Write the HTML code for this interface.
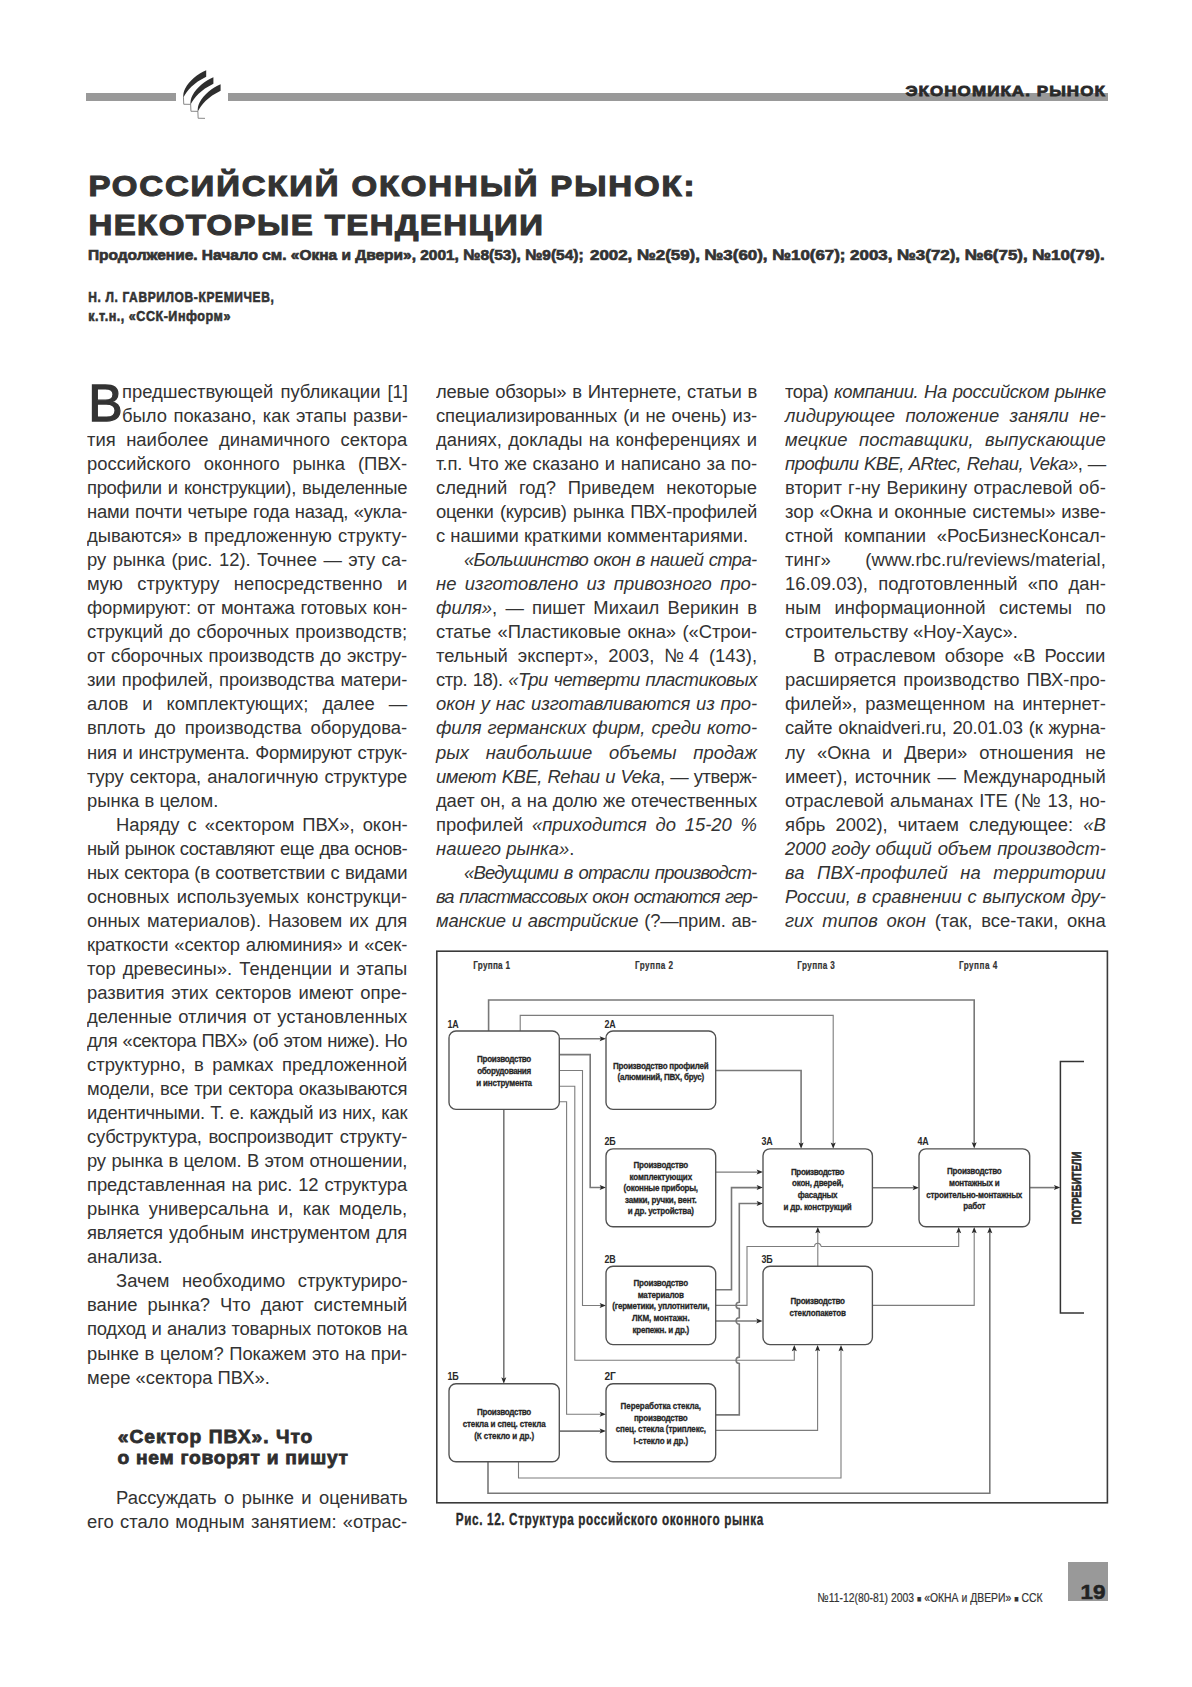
<!DOCTYPE html>
<html><head><meta charset="utf-8"><title>Российский оконный рынок</title><style>
html,body{margin:0;padding:0;background:#fff;}
body{width:1192px;height:1687px;position:relative;overflow:hidden;font-family:"Liberation Sans",sans-serif;color:#333;}
.ln{position:absolute;white-space:nowrap;font-size:19.2px;line-height:24.04px;height:24.04px;letter-spacing:0.0px;word-spacing:0px;transform-origin:0 0;transform:scaleX(0.96);}
.ln.j{text-align:justify;text-align-last:justify;}
.ln.l{text-align:left;}
.ln i{font-style:italic;}
svg{position:absolute;left:0;top:0;}
svg text{font-family:"Liberation Sans",sans-serif;}
</style></head>
<body>
<svg width="1192" height="1687" viewBox="0 0 1192 1687">
<rect x="86" y="93" width="90" height="8" fill="#999"/>
<rect x="228" y="93" width="880" height="8" fill="#999"/>
<g transform="translate(0.0,0.0)"><path d="M206.2,70.2 L206.2,76.8 C193.5,83 187,90.5 183.3,97.8 C183.1,94.5 183.6,91.5 185.2,88.5 C189.5,80.5 197.5,73.8 206.2,70.2 Z" fill="#2e2e2e"/><path d="M183.45,97.2 L183.75,104.25 L190.6,104.35" stroke="#7a7a7a" stroke-width="0.9" fill="none"/></g>
<g transform="translate(7.2,7.0)"><path d="M206.2,70.2 L206.2,76.8 C193.5,83 187,90.5 183.3,97.8 C183.1,94.5 183.6,91.5 185.2,88.5 C189.5,80.5 197.5,73.8 206.2,70.2 Z" fill="#2e2e2e"/><path d="M183.45,97.2 L183.75,104.25 L190.6,104.35" stroke="#7a7a7a" stroke-width="0.9" fill="none"/></g>
<g transform="translate(14.4,14.0)"><path d="M206.2,70.2 L206.2,76.8 C193.5,83 187,90.5 183.3,97.8 C183.1,94.5 183.6,91.5 185.2,88.5 C189.5,80.5 197.5,73.8 206.2,70.2 Z" fill="#2e2e2e"/><path d="M183.45,97.2 L183.75,104.25 L190.6,104.35" stroke="#7a7a7a" stroke-width="0.9" fill="none"/></g>
<text transform="translate(905.40,96.30) scale(1.12,1)" x="0" y="0" font-size="15.2" font-weight="900" fill="#2a2a2a" textLength="178.12" lengthAdjust="spacing" stroke="#2a2a2a" stroke-width="0.8">ЭКОНОМИКА. РЫНОК</text>
<text transform="translate(88.40,196.10) scale(1.13,1)" x="0" y="0" font-size="29.2" font-weight="bold" fill="#333" textLength="536.28" lengthAdjust="spacing" stroke="#333" stroke-width="1.1">РОССИЙСКИЙ ОКОННЫЙ РЫНОК:</text>
<text transform="translate(88.40,235.10) scale(1.13,1)" x="0" y="0" font-size="29.2" font-weight="bold" fill="#333" textLength="402.21" lengthAdjust="spacing" stroke="#333" stroke-width="1.1">НЕКОТОРЫЕ ТЕНДЕНЦИИ</text>
<text x="88.00" y="259.50" font-size="15" font-weight="bold" fill="#333" textLength="495.60" lengthAdjust="spacingAndGlyphs" stroke="#333" stroke-width="0.7">Продолжение. Начало см. «Окна и Двери», 2001, №8(53), №9(54);</text>
<text x="590.00" y="259.50" font-size="15" font-weight="bold" fill="#333" textLength="514.60" lengthAdjust="spacingAndGlyphs" stroke="#333" stroke-width="0.7">2002, №2(59), №3(60), №10(67); 2003, №3(72), №6(75), №10(79).</text>
<text transform="translate(88.30,301.80) scale(0.8,1)" x="0" y="0" font-size="15" font-weight="bold" fill="#333" textLength="231.88" lengthAdjust="spacing" stroke="#333" stroke-width="0.6">Н. Л. ГАВРИЛОВ-КРЕМИЧЕВ,</text>
<text transform="translate(88.30,321.00) scale(0.84,1)" x="0" y="0" font-size="15" font-weight="bold" fill="#333" textLength="169.17" lengthAdjust="spacing" stroke="#333" stroke-width="0.6">к.т.н., «ССК-Информ»</text>
<text x="88.20" y="421.30" font-size="51.6" font-weight="normal" fill="#333" stroke="#333" stroke-width="1.3">В</text>
<text transform="translate(117.80,1442.50) scale(1.08,1)" x="0" y="0" font-size="17.8" font-weight="900" fill="#2e2e2e" textLength="180.09" lengthAdjust="spacing" stroke="#2e2e2e" stroke-width="0.75">«Сектор ПВХ». Что</text>
<text transform="translate(117.50,1463.50) scale(1.08,1)" x="0" y="0" font-size="17.8" font-weight="900" fill="#2e2e2e" textLength="213.43" lengthAdjust="spacing" stroke="#2e2e2e" stroke-width="0.75">о нем говорят и пишут</text>
<text transform="translate(455.80,1524.60) scale(0.72,1)" x="0" y="0" font-size="16.3" font-weight="bold" fill="#2a2a2a" textLength="427.08" lengthAdjust="spacing" stroke="#2a2a2a" stroke-width="0.35">Рис. 12. Структура российского оконного рынка</text>
<text transform="translate(817.5,1601.8) scale(0.8,1)" x="0" y="0" font-size="13" fill="#333" stroke="#333" stroke-width="0.2" textLength="281.25" lengthAdjust="spacing">№11-12(80-81) 2003 <tspan font-size="9">■</tspan> «ОКНА и ДВЕРИ» <tspan font-size="9">■</tspan> ССК</text>
<rect x="1068" y="1562" width="40" height="39" fill="#999"/>
<text x="1080.50" y="1599.30" font-size="19.5" font-weight="900" fill="#222" textLength="25.00" lengthAdjust="spacingAndGlyphs" stroke="#222" stroke-width="0.5">19</text>
<rect x="436.8" y="951.2" width="670.6" height="551.6" fill="none" stroke="#3a3a3a" stroke-width="1.6"/>
<text transform="translate(473.20,968.60) scale(0.8,1)" x="0" y="0" font-size="10.2" font-weight="bold" fill="#333" textLength="46.00" lengthAdjust="spacing" stroke="#333" stroke-width="0.2">Группа 1</text>
<text transform="translate(634.90,968.60) scale(0.8,1)" x="0" y="0" font-size="10.2" font-weight="bold" fill="#333" textLength="47.75" lengthAdjust="spacing" stroke="#333" stroke-width="0.2">Группа 2</text>
<text transform="translate(797.30,968.60) scale(0.8,1)" x="0" y="0" font-size="10.2" font-weight="bold" fill="#333" textLength="47.00" lengthAdjust="spacing" stroke="#333" stroke-width="0.2">Группа 3</text>
<text transform="translate(959.00,968.60) scale(0.8,1)" x="0" y="0" font-size="10.2" font-weight="bold" fill="#333" textLength="47.75" lengthAdjust="spacing" stroke="#333" stroke-width="0.2">Группа 4</text>
<path d="M488.60,1031.00 L488.60,1000.00 L974.20,1000.00 L974.20,1146.00" fill="none" stroke="#787878" stroke-width="1.6" stroke-linejoin="miter"/>
<path d="M974.2,1148.6 L971.7,1142.1999999999998 L974.2,1143.6 L976.7,1142.1999999999998 Z" fill="#2a2a2a"/>
<path d="M520.20,1031.00 L520.20,1015.40 L833.20,1015.40 L833.20,1146.00" fill="none" stroke="#7c7c7c" stroke-width="1.1" stroke-linejoin="miter"/>
<path d="M833.2,1148.8 L830.7,1142.3999999999999 L833.2,1143.8 L835.7,1142.3999999999999 Z" fill="#2a2a2a"/>
<path d="M559.30,1038.80 L603.00,1038.80" fill="none" stroke="#787878" stroke-width="1.6" stroke-linejoin="miter"/>
<path d="M606,1038.8 L599.6,1036.3 L601.0,1038.8 L599.6,1041.3 Z" fill="#2a2a2a"/>
<path d="M559.30,1054.60 L590.20,1054.60 L590.20,1187.50 L603.00,1187.50" fill="none" stroke="#787878" stroke-width="1.6" stroke-linejoin="miter"/>
<path d="M606,1187.5 L599.6,1185.0 L601.0,1187.5 L599.6,1190.0 Z" fill="#2a2a2a"/>
<path d="M559.30,1070.50 L582.50,1070.50 L582.50,1305.50 L603.00,1305.50" fill="none" stroke="#7c7c7c" stroke-width="1.1" stroke-linejoin="miter"/>
<path d="M606,1305.5 L599.6,1303.0 L601.0,1305.5 L599.6,1308.0 Z" fill="#2a2a2a"/>
<path d="M559.30,1086.20 L574.80,1086.20 L574.80,1360.30 L794.30,1360.30 L794.30,1347.50" fill="none" stroke="#7c7c7c" stroke-width="1.1" stroke-linejoin="miter"/>
<path d="M794.3,1344.9 L791.8,1351.3000000000002 L794.3,1349.9 L796.8,1351.3000000000002 Z" fill="#2a2a2a"/>
<path d="M559.30,1101.70 L566.60,1101.70 L566.60,1414.30 L603.00,1414.30" fill="none" stroke="#7c7c7c" stroke-width="1.1" stroke-linejoin="miter"/>
<path d="M606,1414.3 L599.6,1411.8 L601.0,1414.3 L599.6,1416.8 Z" fill="#2a2a2a"/>
<path d="M503.80,1109.40 L503.80,1381.00" fill="none" stroke="#787878" stroke-width="1.6" stroke-linejoin="miter"/>
<path d="M503.8,1383.7 L501.3,1377.3 L503.8,1378.7 L506.3,1377.3 Z" fill="#2a2a2a"/>
<path d="M715.70,1070.50 L801.10,1070.50 L801.10,1146.00" fill="none" stroke="#787878" stroke-width="1.6" stroke-linejoin="miter"/>
<path d="M801.1,1148.8 L798.6,1142.3999999999999 L801.1,1143.8 L803.6,1142.3999999999999 Z" fill="#2a2a2a"/>
<path d="M715.60,1172.10 L760.00,1172.10" fill="none" stroke="#7c7c7c" stroke-width="1.1" stroke-linejoin="miter"/>
<path d="M763,1172.1 L756.6,1169.6 L758.0,1172.1 L756.6,1174.6 Z" fill="#2a2a2a"/>
<path d="M715.60,1289.80 L731.50,1289.80 L731.50,1187.60 L760.00,1187.60" fill="none" stroke="#787878" stroke-width="1.6" stroke-linejoin="miter"/>
<path d="M763,1187.6 L756.6,1185.1 L758.0,1187.6 L756.6,1190.1 Z" fill="#2a2a2a"/>
<path d="M715.60,1305.40 L747.00,1305.40 L747.00,1246.50 L814.60,1246.50" fill="none" stroke="#7c7c7c" stroke-width="1.1" stroke-linejoin="miter"/>
<path d="M814.6,1246.5 A3.2,3.2 0 0 1 821.0,1246.5" fill="none" stroke="#7c7c7c" stroke-width="1.1"/>
<path d="M821.00,1246.50 L958.70,1246.50 L958.70,1229.50" fill="none" stroke="#7c7c7c" stroke-width="1.1" stroke-linejoin="miter"/>
<path d="M958.7,1226.9 L956.2,1233.3000000000002 L958.7,1231.9 L961.2,1233.3000000000002 Z" fill="#2a2a2a"/>
<path d="M715.60,1321.00 L759.60,1321.00" fill="none" stroke="#787878" stroke-width="1.6" stroke-linejoin="miter"/>
<path d="M762.6,1321.0 L756.2,1318.5 L757.6,1321.0 L756.2,1323.5 Z" fill="#2a2a2a"/>
<path d="M715.7,1414.9 L739.3,1414.9 L739.3,1363.5 A3.2,3.2 0 0 1 739.3,1357.1 L739.3,1324.2 A3.2,3.2 0 0 1 739.3,1317.8 L739.3,1308.6 A3.2,3.2 0 0 1 739.3,1302.2 L739.3,1203.5 L760,1203.5" fill="none" stroke="#787878" stroke-width="1.6"/>
<path d="M763,1203.5 L756.6,1201.0 L758.0,1203.5 L756.6,1206.0 Z" fill="#2a2a2a"/>
<path d="M715.70,1430.40 L817.60,1430.40 L817.60,1347.50" fill="none" stroke="#7c7c7c" stroke-width="1.1" stroke-linejoin="miter"/>
<path d="M817.6,1344.9 L815.1,1351.3000000000002 L817.6,1349.9 L820.1,1351.3000000000002 Z" fill="#2a2a2a"/>
<path d="M558.80,1431.10 L603.00,1431.10" fill="none" stroke="#787878" stroke-width="1.6" stroke-linejoin="miter"/>
<path d="M606,1431.1 L599.6,1428.6 L601.0,1431.1 L599.6,1433.6 Z" fill="#2a2a2a"/>
<path d="M518.50,1461.70 L518.50,1478.00 L841.00,1478.00 L841.00,1347.50" fill="none" stroke="#7c7c7c" stroke-width="1.1" stroke-linejoin="miter"/>
<path d="M841.0,1344.9 L838.5,1351.3000000000002 L841.0,1349.9 L843.5,1351.3000000000002 Z" fill="#2a2a2a"/>
<path d="M488.00,1461.70 L488.00,1493.20 L989.80,1493.20 L989.80,1229.50" fill="none" stroke="#787878" stroke-width="1.6" stroke-linejoin="miter"/>
<path d="M989.8,1226.9 L987.3,1233.3000000000002 L989.8,1231.9 L992.3,1233.3000000000002 Z" fill="#2a2a2a"/>
<path d="M817.80,1266.20 L817.80,1229.50" fill="none" stroke="#7c7c7c" stroke-width="1.1" stroke-linejoin="miter"/>
<path d="M817.8,1226.9 L815.3,1233.3000000000002 L817.8,1231.9 L820.3,1233.3000000000002 Z" fill="#2a2a2a"/>
<path d="M872.40,1187.70 L916.00,1187.70" fill="none" stroke="#787878" stroke-width="1.6" stroke-linejoin="miter"/>
<path d="M919,1187.7 L912.6,1185.2 L914.0,1187.7 L912.6,1190.2 Z" fill="#2a2a2a"/>
<path d="M872.20,1305.40 L974.20,1305.40 L974.20,1229.50" fill="none" stroke="#7c7c7c" stroke-width="1.1" stroke-linejoin="miter"/>
<path d="M974.2,1226.9 L971.7,1233.3000000000002 L974.2,1231.9 L976.7,1233.3000000000002 Z" fill="#2a2a2a"/>
<path d="M1029.70,1187.60 L1057.50,1187.60" fill="none" stroke="#787878" stroke-width="1.6" stroke-linejoin="miter"/>
<path d="M1060.3,1187.6 L1053.8999999999999,1185.1 L1055.3,1187.6 L1053.8999999999999,1190.1 Z" fill="#2a2a2a"/>
<path d="M1084,1061.6 L1060.4,1061.6 L1060.4,1312.9 L1084,1312.9" fill="none" stroke="#333" stroke-width="1.5"/>
<text transform="translate(1080.6,1224.3) rotate(-90)" x="0" y="0" font-size="13.6" font-weight="bold" fill="#2a2a2a" stroke="#2a2a2a" stroke-width="0.7" textLength="72.8" lengthAdjust="spacingAndGlyphs">ПОТРЕБИТЕЛИ</text>
<rect x="449.00" y="1031.00" width="110.30" height="78.40" rx="7" ry="7" fill="#fff" stroke="#505050" stroke-width="1.35"/>
<text x="447.40" y="1027.60" font-size="10.4" font-weight="bold" fill="#2a2a2a" textLength="11.40" lengthAdjust="spacingAndGlyphs" >1A</text>
<rect x="606.00" y="1031.00" width="109.70" height="78.40" rx="7" ry="7" fill="#fff" stroke="#505050" stroke-width="1.35"/>
<text x="604.40" y="1027.60" font-size="10.4" font-weight="bold" fill="#2a2a2a" textLength="11.40" lengthAdjust="spacingAndGlyphs" >2A</text>
<rect x="606.00" y="1148.80" width="109.70" height="77.90" rx="7" ry="7" fill="#fff" stroke="#505050" stroke-width="1.35"/>
<text x="604.40" y="1145.40" font-size="10.4" font-weight="bold" fill="#2a2a2a" textLength="11.40" lengthAdjust="spacingAndGlyphs" >2Б</text>
<rect x="763.00" y="1148.80" width="109.40" height="77.90" rx="7" ry="7" fill="#fff" stroke="#505050" stroke-width="1.35"/>
<text x="761.40" y="1145.40" font-size="10.4" font-weight="bold" fill="#2a2a2a" textLength="11.40" lengthAdjust="spacingAndGlyphs" >3A</text>
<rect x="919.00" y="1148.80" width="110.70" height="77.90" rx="7" ry="7" fill="#fff" stroke="#505050" stroke-width="1.35"/>
<text x="917.40" y="1145.40" font-size="10.4" font-weight="bold" fill="#2a2a2a" textLength="11.40" lengthAdjust="spacingAndGlyphs" >4A</text>
<rect x="606.00" y="1266.20" width="109.70" height="78.40" rx="7" ry="7" fill="#fff" stroke="#505050" stroke-width="1.35"/>
<text x="604.40" y="1262.80" font-size="10.4" font-weight="bold" fill="#2a2a2a" textLength="11.40" lengthAdjust="spacingAndGlyphs" >2В</text>
<rect x="763.00" y="1266.20" width="109.40" height="78.40" rx="7" ry="7" fill="#fff" stroke="#505050" stroke-width="1.35"/>
<text x="761.40" y="1262.80" font-size="10.4" font-weight="bold" fill="#2a2a2a" textLength="11.40" lengthAdjust="spacingAndGlyphs" >3Б</text>
<rect x="449.00" y="1383.70" width="110.30" height="78.00" rx="7" ry="7" fill="#fff" stroke="#505050" stroke-width="1.35"/>
<text x="447.40" y="1380.30" font-size="10.4" font-weight="bold" fill="#2a2a2a" textLength="11.40" lengthAdjust="spacingAndGlyphs" >1Б</text>
<rect x="606.00" y="1383.70" width="109.70" height="78.00" rx="7" ry="7" fill="#fff" stroke="#505050" stroke-width="1.35"/>
<text x="604.40" y="1380.30" font-size="10.4" font-weight="bold" fill="#2a2a2a" textLength="11.40" lengthAdjust="spacingAndGlyphs" >2Г</text>
<text transform="translate(504.15,1062.10) scale(0.82,1)" x="0" y="0" font-size="9.8" font-weight="bold" fill="#262626" text-anchor="middle" textLength="66.10" lengthAdjust="spacing" stroke="#262626" stroke-width="0.3">Производство</text>
<text transform="translate(504.15,1073.90) scale(0.82,1)" x="0" y="0" font-size="9.8" font-weight="bold" fill="#262626" text-anchor="middle" textLength="65.85" lengthAdjust="spacing" stroke="#262626" stroke-width="0.3">оборудования</text>
<text transform="translate(504.15,1085.60) scale(0.82,1)" x="0" y="0" font-size="9.8" font-weight="bold" fill="#262626" text-anchor="middle" textLength="68.17" lengthAdjust="spacing" stroke="#262626" stroke-width="0.3">и инструмента</text>
<text transform="translate(660.85,1068.50) scale(0.82,1)" x="0" y="0" font-size="9.8" font-weight="bold" fill="#262626" text-anchor="middle" textLength="116.59" lengthAdjust="spacing" stroke="#262626" stroke-width="0.3">Производство профилей</text>
<text transform="translate(660.85,1080.30) scale(0.82,1)" x="0" y="0" font-size="9.8" font-weight="bold" fill="#262626" text-anchor="middle" textLength="105.85" lengthAdjust="spacing" stroke="#262626" stroke-width="0.3">(алюминий, ПВХ, брус)</text>
<text transform="translate(660.85,1168.10) scale(0.82,1)" x="0" y="0" font-size="9.8" font-weight="bold" fill="#262626" text-anchor="middle" textLength="66.59" lengthAdjust="spacing" stroke="#262626" stroke-width="0.3">Производство</text>
<text transform="translate(660.85,1179.60) scale(0.82,1)" x="0" y="0" font-size="9.8" font-weight="bold" fill="#262626" text-anchor="middle" textLength="76.22" lengthAdjust="spacing" stroke="#262626" stroke-width="0.3">комплектующих</text>
<text transform="translate(660.85,1191.40) scale(0.82,1)" x="0" y="0" font-size="9.8" font-weight="bold" fill="#262626" text-anchor="middle" textLength="90.85" lengthAdjust="spacing" stroke="#262626" stroke-width="0.3">(оконные приборы,</text>
<text transform="translate(660.85,1202.80) scale(0.82,1)" x="0" y="0" font-size="9.8" font-weight="bold" fill="#262626" text-anchor="middle" textLength="87.68" lengthAdjust="spacing" stroke="#262626" stroke-width="0.3">замки, ручки, вент.</text>
<text transform="translate(660.85,1214.20) scale(0.82,1)" x="0" y="0" font-size="9.8" font-weight="bold" fill="#262626" text-anchor="middle" textLength="80.61" lengthAdjust="spacing" stroke="#262626" stroke-width="0.3">и др. устройства)</text>
<text transform="translate(817.70,1174.50) scale(0.82,1)" x="0" y="0" font-size="9.8" font-weight="bold" fill="#262626" text-anchor="middle" textLength="65.37" lengthAdjust="spacing" stroke="#262626" stroke-width="0.3">Производство</text>
<text transform="translate(817.70,1186.30) scale(0.82,1)" x="0" y="0" font-size="9.8" font-weight="bold" fill="#262626" text-anchor="middle" textLength="62.68" lengthAdjust="spacing" stroke="#262626" stroke-width="0.3">окон, дверей,</text>
<text transform="translate(817.70,1198.10) scale(0.82,1)" x="0" y="0" font-size="9.8" font-weight="bold" fill="#262626" text-anchor="middle" textLength="48.41" lengthAdjust="spacing" stroke="#262626" stroke-width="0.3">фасадных</text>
<text transform="translate(817.70,1209.90) scale(0.82,1)" x="0" y="0" font-size="9.8" font-weight="bold" fill="#262626" text-anchor="middle" textLength="83.17" lengthAdjust="spacing" stroke="#262626" stroke-width="0.3">и др. конструкций</text>
<text transform="translate(974.35,1174.00) scale(0.82,1)" x="0" y="0" font-size="9.8" font-weight="bold" fill="#262626" text-anchor="middle" textLength="66.59" lengthAdjust="spacing" stroke="#262626" stroke-width="0.3">Производство</text>
<text transform="translate(974.35,1185.50) scale(0.82,1)" x="0" y="0" font-size="9.8" font-weight="bold" fill="#262626" text-anchor="middle" textLength="61.59" lengthAdjust="spacing" stroke="#262626" stroke-width="0.3">монтажных и</text>
<text transform="translate(974.35,1197.50) scale(0.82,1)" x="0" y="0" font-size="9.8" font-weight="bold" fill="#262626" text-anchor="middle" textLength="117.07" lengthAdjust="spacing" stroke="#262626" stroke-width="0.3">строительно-монтажных</text>
<text transform="translate(974.35,1209.30) scale(0.82,1)" x="0" y="0" font-size="9.8" font-weight="bold" fill="#262626" text-anchor="middle" textLength="26.83" lengthAdjust="spacing" stroke="#262626" stroke-width="0.3">работ</text>
<text transform="translate(660.85,1286.10) scale(0.82,1)" x="0" y="0" font-size="9.8" font-weight="bold" fill="#262626" text-anchor="middle" textLength="66.46" lengthAdjust="spacing" stroke="#262626" stroke-width="0.3">Производство</text>
<text transform="translate(660.85,1297.60) scale(0.82,1)" x="0" y="0" font-size="9.8" font-weight="bold" fill="#262626" text-anchor="middle" textLength="56.59" lengthAdjust="spacing" stroke="#262626" stroke-width="0.3">материалов</text>
<text transform="translate(660.85,1309.00) scale(0.82,1)" x="0" y="0" font-size="9.8" font-weight="bold" fill="#262626" text-anchor="middle" textLength="118.66" lengthAdjust="spacing" stroke="#262626" stroke-width="0.3">(герметики, уплотнители,</text>
<text transform="translate(660.85,1320.50) scale(0.82,1)" x="0" y="0" font-size="9.8" font-weight="bold" fill="#262626" text-anchor="middle" textLength="70.24" lengthAdjust="spacing" stroke="#262626" stroke-width="0.3">ЛКМ, монтажн.</text>
<text transform="translate(660.85,1332.50) scale(0.82,1)" x="0" y="0" font-size="9.8" font-weight="bold" fill="#262626" text-anchor="middle" textLength="69.39" lengthAdjust="spacing" stroke="#262626" stroke-width="0.3">крепежн. и др.)</text>
<text transform="translate(817.70,1304.00) scale(0.82,1)" x="0" y="0" font-size="9.8" font-weight="bold" fill="#262626" text-anchor="middle" textLength="66.34" lengthAdjust="spacing" stroke="#262626" stroke-width="0.3">Производство</text>
<text transform="translate(817.70,1315.50) scale(0.82,1)" x="0" y="0" font-size="9.8" font-weight="bold" fill="#262626" text-anchor="middle" textLength="68.78" lengthAdjust="spacing" stroke="#262626" stroke-width="0.3">стеклопакетов</text>
<text transform="translate(504.15,1415.40) scale(0.82,1)" x="0" y="0" font-size="9.8" font-weight="bold" fill="#262626" text-anchor="middle" textLength="66.10" lengthAdjust="spacing" stroke="#262626" stroke-width="0.3">Производство</text>
<text transform="translate(504.15,1426.90) scale(0.82,1)" x="0" y="0" font-size="9.8" font-weight="bold" fill="#262626" text-anchor="middle" textLength="101.10" lengthAdjust="spacing" stroke="#262626" stroke-width="0.3">стекла и спец. стекла</text>
<text transform="translate(504.15,1438.70) scale(0.82,1)" x="0" y="0" font-size="9.8" font-weight="bold" fill="#262626" text-anchor="middle" textLength="73.05" lengthAdjust="spacing" stroke="#262626" stroke-width="0.3">(К стекло и др.)</text>
<text transform="translate(660.85,1409.20) scale(0.82,1)" x="0" y="0" font-size="9.8" font-weight="bold" fill="#262626" text-anchor="middle" textLength="98.17" lengthAdjust="spacing" stroke="#262626" stroke-width="0.3">Переработка стекла,</text>
<text transform="translate(660.85,1420.70) scale(0.82,1)" x="0" y="0" font-size="9.8" font-weight="bold" fill="#262626" text-anchor="middle" textLength="65.61" lengthAdjust="spacing" stroke="#262626" stroke-width="0.3">производство</text>
<text transform="translate(660.85,1432.30) scale(0.82,1)" x="0" y="0" font-size="9.8" font-weight="bold" fill="#262626" text-anchor="middle" textLength="110.12" lengthAdjust="spacing" stroke="#262626" stroke-width="0.3">спец. стекла (триплекс,</text>
<text transform="translate(660.85,1443.90) scale(0.82,1)" x="0" y="0" font-size="9.8" font-weight="bold" fill="#262626" text-anchor="middle" textLength="66.46" lengthAdjust="spacing" stroke="#262626" stroke-width="0.3">I-стекло и др.)</text>
</svg>
<div class="ln j" style="left:121.60px;top:379.93px;width:297.92px">предшествующей публикации [1]</div>
<div class="ln j" style="left:121.60px;top:403.97px;width:297.92px">было показано, как этапы разви-</div>
<div class="ln j" style="left:87.40px;top:428.01px;width:333.54px">тия наиболее динамичного сектора</div>
<div class="ln j" style="left:87.40px;top:452.05px;width:333.54px">российского оконного рынка (ПВХ-</div>
<div class="ln j" style="left:87.40px;top:476.09px;width:333.54px;letter-spacing:-0.317px">профили и конструкции), выделенные</div>
<div class="ln j" style="left:87.40px;top:500.13px;width:333.54px;letter-spacing:-0.251px">нами почти четыре года назад, «укла-</div>
<div class="ln j" style="left:87.40px;top:524.17px;width:333.54px;letter-spacing:-0.003px">дываются» в предложенную структу-</div>
<div class="ln j" style="left:87.40px;top:548.21px;width:333.54px">ру рынка (рис. 12). Точнее — эту са-</div>
<div class="ln j" style="left:87.40px;top:572.25px;width:333.54px">мую структуру непосредственно и</div>
<div class="ln j" style="left:87.40px;top:596.29px;width:333.54px;letter-spacing:-0.081px">формируют: от монтажа готовых кон-</div>
<div class="ln j" style="left:87.40px;top:620.33px;width:333.54px">струкций до сборочных производств;</div>
<div class="ln j" style="left:87.40px;top:644.37px;width:333.54px;letter-spacing:-0.084px">от сборочных производств до экстру-</div>
<div class="ln j" style="left:87.40px;top:668.41px;width:333.54px;letter-spacing:-0.138px">зии профилей, производства матери-</div>
<div class="ln j" style="left:87.40px;top:692.45px;width:333.54px">алов и комплектующих; далее —</div>
<div class="ln j" style="left:87.40px;top:716.49px;width:333.54px">вплоть до производства оборудова-</div>
<div class="ln j" style="left:87.40px;top:740.53px;width:333.54px;letter-spacing:-0.24px">ния и инструмента. Формируют струк-</div>
<div class="ln j" style="left:87.40px;top:764.57px;width:333.54px;letter-spacing:-0.068px">туру сектора, аналогичную структуре</div>
<div class="ln l" style="left:87.40px;top:788.61px;width:333.54px">рынка в целом.</div>
<div class="ln j" style="left:115.90px;top:812.65px;width:303.85px">Наряду с «сектором ПВХ», окон-</div>
<div class="ln j" style="left:87.40px;top:836.69px;width:333.54px;letter-spacing:-0.476px">ный рынок составляют еще два основ-</div>
<div class="ln j" style="left:87.40px;top:860.73px;width:333.54px;letter-spacing:-0.317px">ных сектора (в соответствии с видами</div>
<div class="ln j" style="left:87.40px;top:884.77px;width:333.54px">основных используемых конструкци-</div>
<div class="ln j" style="left:87.40px;top:908.81px;width:333.54px">онных материалов). Назовем их для</div>
<div class="ln j" style="left:87.40px;top:932.85px;width:333.54px;letter-spacing:-0.178px">краткости «сектор алюминия» и «сек-</div>
<div class="ln j" style="left:87.40px;top:956.89px;width:333.54px">тор древесины». Тенденции и этапы</div>
<div class="ln j" style="left:87.40px;top:980.93px;width:333.54px">развития этих секторов имеют опре-</div>
<div class="ln j" style="left:87.40px;top:1004.97px;width:333.54px;letter-spacing:-0.035px">деленные отличия от установленных</div>
<div class="ln j" style="left:87.40px;top:1029.01px;width:333.54px;letter-spacing:-0.43px">для «сектора ПВХ» (об этом ниже). Но</div>
<div class="ln j" style="left:87.40px;top:1053.05px;width:333.54px">структурно, в рамках предложенной</div>
<div class="ln j" style="left:87.40px;top:1077.09px;width:333.54px;letter-spacing:-0.26px">модели, все три сектора оказываются</div>
<div class="ln j" style="left:87.40px;top:1101.13px;width:333.54px;letter-spacing:-0.303px">идентичными. Т. е. каждый из них, как</div>
<div class="ln j" style="left:87.40px;top:1125.17px;width:333.54px;letter-spacing:-0.211px">субструктура, воспроизводит структу-</div>
<div class="ln j" style="left:87.40px;top:1149.21px;width:333.54px;letter-spacing:-0.192px">ру рынка в целом. В этом отношении,</div>
<div class="ln j" style="left:87.40px;top:1173.25px;width:333.54px;letter-spacing:-0.066px">представленная на рис. 12 структура</div>
<div class="ln j" style="left:87.40px;top:1197.29px;width:333.54px">рынка универсальна и, как модель,</div>
<div class="ln j" style="left:87.40px;top:1221.33px;width:333.54px;letter-spacing:-0.154px">является удобным инструментом для</div>
<div class="ln l" style="left:87.40px;top:1245.37px;width:333.54px">анализа.</div>
<div class="ln j" style="left:115.90px;top:1269.41px;width:303.85px">Зачем необходимо структуриро-</div>
<div class="ln j" style="left:87.40px;top:1293.45px;width:333.54px">вание рынка? Что дают системный</div>
<div class="ln j" style="left:87.40px;top:1317.49px;width:333.54px;letter-spacing:-0.231px">подход и анализ товарных потоков на</div>
<div class="ln j" style="left:87.40px;top:1341.53px;width:333.54px;letter-spacing:-0.06px">рынке в целом? Покажем это на при-</div>
<div class="ln l" style="left:87.40px;top:1365.57px;width:333.54px">мере «сектора ПВХ».</div>
<div class="ln j" style="left:435.90px;top:379.93px;width:334.38px;letter-spacing:-0.195px">левые обзоры» в Интернете, статьи в</div>
<div class="ln j" style="left:435.90px;top:403.97px;width:334.38px;letter-spacing:-0.134px">специализированных (и не очень) из-</div>
<div class="ln j" style="left:435.90px;top:428.01px;width:334.38px">даниях, доклады на конференциях и</div>
<div class="ln j" style="left:435.90px;top:452.05px;width:334.38px;letter-spacing:-0.048px">т.п. Что же сказано и написано за по-</div>
<div class="ln j" style="left:435.90px;top:476.09px;width:334.38px">следний год? Приведем некоторые</div>
<div class="ln j" style="left:435.90px;top:500.13px;width:334.38px;letter-spacing:-0.305px">оценки (курсив) рынка ПВХ-профилей</div>
<div class="ln l" style="left:435.90px;top:524.17px;width:334.38px">с нашими краткими комментариями.</div>
<div class="ln j" style="left:464.40px;top:548.21px;width:304.69px;letter-spacing:-0.674px"><i>«Большинство окон в нашей стра-</i></div>
<div class="ln j" style="left:435.90px;top:572.25px;width:334.38px"><i>не изготовлено из привозного про-</i></div>
<div class="ln j" style="left:435.90px;top:596.29px;width:334.38px"><i>филя»</i>, — пишет Михаил Верикин в</div>
<div class="ln j" style="left:435.90px;top:620.33px;width:334.38px;letter-spacing:-0.072px">статье «Пластиковые окна» («Строи-</div>
<div class="ln j" style="left:435.90px;top:644.37px;width:334.38px">тельный эксперт», 2003, №4 (143),</div>
<div class="ln j" style="left:435.90px;top:668.41px;width:334.38px;letter-spacing:-0.517px">стр. 18). <i>«Три четверти пластиковых</i></div>
<div class="ln j" style="left:435.90px;top:692.45px;width:334.38px;letter-spacing:-0.092px"><i>окон у нас изготавливаются из про-</i></div>
<div class="ln j" style="left:435.90px;top:716.49px;width:334.38px;letter-spacing:-0.093px"><i>филя германских фирм, среди кото-</i></div>
<div class="ln j" style="left:435.90px;top:740.53px;width:334.38px"><i>рых наибольшие объемы продаж</i></div>
<div class="ln j" style="left:435.90px;top:764.57px;width:334.38px;letter-spacing:-0.434px"><i>имеют KBE, Rehau и Veka</i>, — утверж-</div>
<div class="ln j" style="left:435.90px;top:788.61px;width:334.38px;letter-spacing:-0.144px">дает он, а на долю же отечественных</div>
<div class="ln j" style="left:435.90px;top:812.65px;width:334.38px">профилей <i>«приходится до 15-20 %</i></div>
<div class="ln l" style="left:435.90px;top:836.69px;width:334.38px"><i>нашего рынка»</i>.</div>
<div class="ln j" style="left:464.40px;top:860.73px;width:304.69px;letter-spacing:-0.765px"><i>«Ведущими в отрасли производст-</i></div>
<div class="ln j" style="left:435.90px;top:884.77px;width:334.38px;letter-spacing:-0.915px"><i>ва пластмассовых окон остаются гер-</i></div>
<div class="ln j" style="left:435.90px;top:908.81px;width:334.38px;letter-spacing:-0.237px"><i>манские и австрийские</i> (?—прим. ав-</div>
<div class="ln j" style="left:784.70px;top:379.93px;width:334.17px;letter-spacing:-0.401px">тора) <i>компании. На российском рынке</i></div>
<div class="ln j" style="left:784.70px;top:403.97px;width:334.17px"><i>лидирующее положение заняли не-</i></div>
<div class="ln j" style="left:784.70px;top:428.01px;width:334.17px"><i>мецкие поставщики, выпускающие</i></div>
<div class="ln j" style="left:784.70px;top:452.05px;width:334.17px;letter-spacing:-0.513px"><i>профили KBE, ARtec, Rehau, Veka»</i>, —</div>
<div class="ln j" style="left:784.70px;top:476.09px;width:334.17px">вторит г-ну Верикину отраслевой об-</div>
<div class="ln j" style="left:784.70px;top:500.13px;width:334.17px;letter-spacing:-0.046px">зор «Окна и оконные системы» изве-</div>
<div class="ln j" style="left:784.70px;top:524.17px;width:334.17px">стной компании «РосБизнесКонсал-</div>
<div class="ln j" style="left:784.70px;top:548.21px;width:334.17px">тинг» (www.rbc.ru/reviews/material,</div>
<div class="ln j" style="left:784.70px;top:572.25px;width:334.17px">16.09.03), подготовленный «по дан-</div>
<div class="ln j" style="left:784.70px;top:596.29px;width:334.17px">ным информационной системы по</div>
<div class="ln l" style="left:784.70px;top:620.33px;width:334.17px">строительству «Ноу-Хаус».</div>
<div class="ln j" style="left:813.20px;top:644.37px;width:304.48px">В отраслевом обзоре «В России</div>
<div class="ln j" style="left:784.70px;top:668.41px;width:334.17px;letter-spacing:-0.06px">расширяется производство ПВХ-про-</div>
<div class="ln j" style="left:784.70px;top:692.45px;width:334.17px">филей», размещенном на интернет-</div>
<div class="ln j" style="left:784.70px;top:716.49px;width:334.17px;letter-spacing:-0.183px">сайте oknaidveri.ru, 20.01.03 (к журна-</div>
<div class="ln j" style="left:784.70px;top:740.53px;width:334.17px">лу «Окна и Двери» отношения не</div>
<div class="ln j" style="left:784.70px;top:764.57px;width:334.17px">имеет), источник — Международный</div>
<div class="ln j" style="left:784.70px;top:788.61px;width:334.17px">отраслевой альманах ITE (№ 13, но-</div>
<div class="ln j" style="left:784.70px;top:812.65px;width:334.17px">ябрь 2002), читаем следующее: <i>«В</i></div>
<div class="ln j" style="left:784.70px;top:836.69px;width:334.17px;letter-spacing:-0.117px"><i>2000 году общий объем производст-</i></div>
<div class="ln j" style="left:784.70px;top:860.73px;width:334.17px"><i>ва ПВХ-профилей на территории</i></div>
<div class="ln j" style="left:784.70px;top:884.77px;width:334.17px;letter-spacing:-0.084px"><i>России, в сравнении с выпуском дру-</i></div>
<div class="ln j" style="left:784.70px;top:908.81px;width:334.17px"><i>гих типов окон</i> (так, все-таки, окна</div>
<div class="ln j" style="left:115.90px;top:1486.33px;width:303.85px">Рассуждать о рынке и оценивать</div>
<div class="ln j" style="left:87.40px;top:1510.37px;width:333.54px">его стало модным занятием: «отрас-</div>
</body></html>
